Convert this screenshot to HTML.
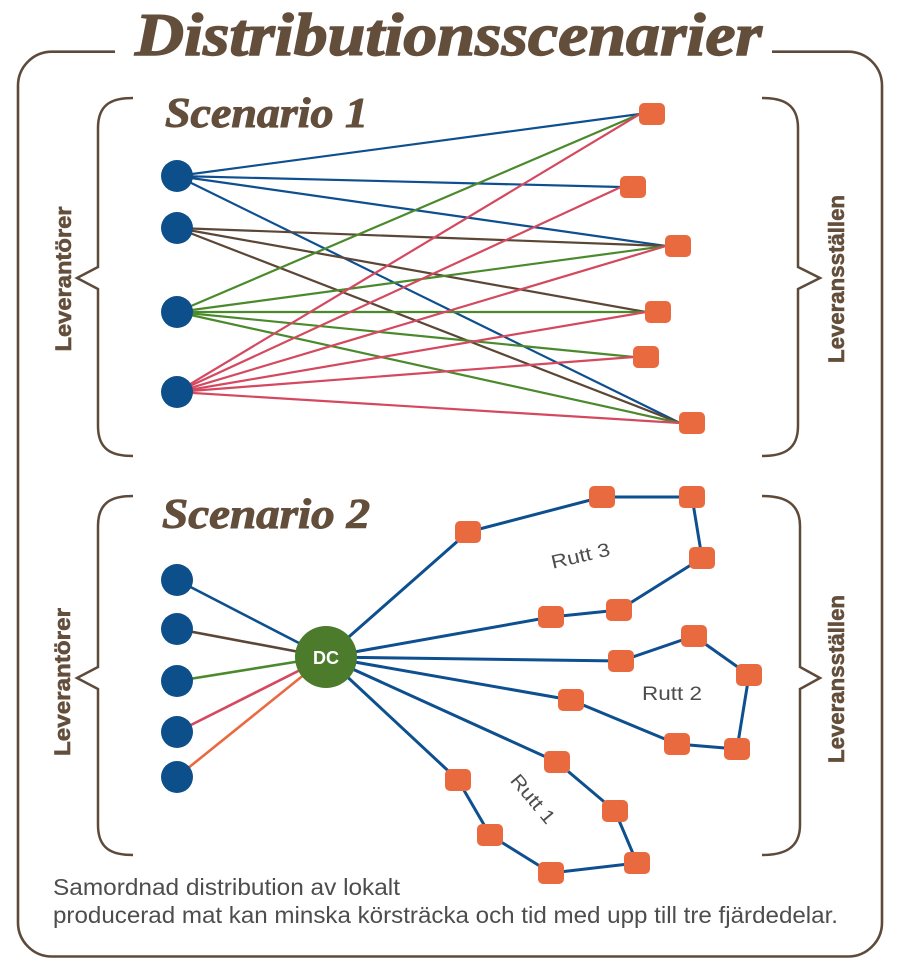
<!DOCTYPE html>
<html><head><meta charset="utf-8"><style>
html,body{margin:0;padding:0;background:#fff;}
svg{display:block;}
</style></head><body>
<svg width="908" height="968" viewBox="0 0 908 968" xmlns="http://www.w3.org/2000/svg">
<rect width="908" height="968" fill="#fff"/>
<!-- outer frame -->
<path d="M115,51.7 L52,51.7 A34,34 0 0 0 18,86 L18,922 A34,34 0 0 0 52,956.5 L848,956.5 A34,34 0 0 0 882,922 L882,86 A34,34 0 0 0 848,51.7 L772,51.7" fill="none" stroke="#5e4a3a" stroke-width="2.6"/>
<text x="135" y="55" font-family="Liberation Serif, serif" font-weight="bold" font-style="italic" font-size="60" fill="#634e3b" stroke="#634e3b" stroke-width="1.4" textLength="627" lengthAdjust="spacingAndGlyphs">Distributionsscenarier</text>

<!-- braces -->
<g fill="none" stroke="#5e4a3a" stroke-width="2.5">
<path d="M133,98 C112,98 98,104 98,128 L98,267 L77,278 L98,289 L98,426 C98,450 112,456 133,456"/>
<path d="M762,98 C783,98 798,104 798,128 L798,267 L820,278 L798,289 L798,426 C798,450 783,456 762,456"/>
<path d="M133,496 C112,496 98,502 98,526 L98,667 L77,678 L98,689 L98,825 C98,849 112,855 133,855"/>
<path d="M762,496 C783,496 800,502 800,526 L800,667 L820,678 L800,689 L800,825 C800,849 783,855 762,855"/>
</g>
<g font-family="Liberation Sans, sans-serif" font-weight="bold" font-size="22" fill="#634e3b" stroke="#634e3b" stroke-width="0.6" text-anchor="middle">
<text transform="translate(71,279) rotate(-90)" textLength="145" lengthAdjust="spacingAndGlyphs">Leverantörer</text>
<text transform="translate(844,279) rotate(-90)" textLength="168" lengthAdjust="spacingAndGlyphs">Leveransställen</text>
<text transform="translate(70,682) rotate(-90)" textLength="148" lengthAdjust="spacingAndGlyphs">Leverantörer</text>
<text transform="translate(844,679) rotate(-90)" textLength="168" lengthAdjust="spacingAndGlyphs">Leveransställen</text>
</g>

<!-- Scenario 1 -->
<text x="165" y="127" font-family="Liberation Serif, serif" font-weight="bold" font-style="italic" font-size="42" fill="#634e3b" stroke="#634e3b" stroke-width="1" textLength="203" lengthAdjust="spacingAndGlyphs">Scenario 1</text>
<g fill="none" stroke-width="2.2">
<g stroke="#0d4f8f">
<line x1="177" y1="176" x2="640" y2="114"/>
<line x1="177" y1="176" x2="621" y2="187"/>
<line x1="177" y1="176" x2="666" y2="246"/>
<line x1="177" y1="176" x2="680" y2="423"/>
</g>
<g stroke="#5c4636">
<line x1="177" y1="228" x2="666" y2="246"/>
<line x1="177" y1="228" x2="646" y2="312"/>
<line x1="177" y1="228" x2="680" y2="423"/>
</g>
<g stroke="#4a8a2c">
<line x1="177" y1="312" x2="640" y2="114"/>
<line x1="177" y1="312" x2="666" y2="246"/>
<line x1="177" y1="312" x2="646" y2="312"/>
<line x1="177" y1="312" x2="634" y2="357"/>
<line x1="177" y1="312" x2="680" y2="423"/>
</g>
<g stroke="#d4495f">
<line x1="177" y1="392" x2="640" y2="114"/>
<line x1="177" y1="392" x2="621" y2="187"/>
<line x1="177" y1="392" x2="666" y2="246"/>
<line x1="177" y1="392" x2="646" y2="312"/>
<line x1="177" y1="392" x2="634" y2="357"/>
<line x1="177" y1="392" x2="680" y2="423"/>
</g>
</g>
<g fill="#0d4f8b">
<circle cx="177" cy="176" r="16"/>
<circle cx="177" cy="228" r="16"/>
<circle cx="177" cy="312" r="16"/>
<circle cx="177" cy="392" r="16"/>
</g>
<g fill="#ea6a40">
<rect x="639" y="103" width="26" height="22" rx="5"/>
<rect x="620" y="176" width="26" height="22" rx="5"/>
<rect x="665" y="235" width="26" height="22" rx="5"/>
<rect x="645" y="301" width="26" height="22" rx="5"/>
<rect x="633" y="346" width="26" height="22" rx="5"/>
<rect x="679" y="412" width="26" height="22" rx="5"/>
</g>

<!-- Scenario 2 -->
<text x="162" y="528" font-family="Liberation Serif, serif" font-weight="bold" font-style="italic" font-size="42" fill="#634e3b" stroke="#634e3b" stroke-width="1" textLength="208" lengthAdjust="spacingAndGlyphs">Scenario 2</text>
<g fill="none" stroke-width="2.6">
<line x1="177" y1="580" x2="326" y2="657" stroke="#0d4f8f"/>
<line x1="177" y1="629" x2="326" y2="657" stroke="#5c4636"/>
<line x1="177" y1="681" x2="326" y2="657" stroke="#4a8a2c"/>
<line x1="177" y1="732" x2="326" y2="657" stroke="#d4495f"/>
<line x1="177" y1="777" x2="326" y2="657" stroke="#ea6a40"/>
</g>
<g fill="none" stroke="#0d4f8f" stroke-width="3" stroke-linejoin="round">
<polyline points="326,657 468,532 602,497 692,497 702,558 619,610 551,617 326,657"/>
<polyline points="326,657 621,661 694,636 749,675 737,749 677,744 571,700 326,657"/>
<polyline points="326,657 557,762 615,811 637,863 551,873 490,835 458,780 326,657"/>
</g>
<g fill="#0d4f8b">
<circle cx="177" cy="580" r="16"/>
<circle cx="177" cy="629" r="16"/>
<circle cx="177" cy="681" r="16"/>
<circle cx="177" cy="732" r="16"/>
<circle cx="177" cy="777" r="16"/>
</g>
<circle cx="326" cy="657" r="31" fill="#4b7b2b"/>
<text x="326" y="664" font-family="Liberation Sans, sans-serif" font-weight="bold" font-size="18" fill="#fff" text-anchor="middle">DC</text>
<g fill="#ea6a40">
<rect x="455" y="521" width="26" height="22" rx="5"/>
<rect x="589" y="486" width="26" height="22" rx="5"/>
<rect x="679" y="486" width="26" height="22" rx="5"/>
<rect x="689" y="547" width="26" height="22" rx="5"/>
<rect x="606" y="599" width="26" height="22" rx="5"/>
<rect x="538" y="606" width="26" height="22" rx="5"/>
<rect x="608" y="650" width="26" height="22" rx="5"/>
<rect x="681" y="625" width="26" height="22" rx="5"/>
<rect x="736" y="664" width="26" height="22" rx="5"/>
<rect x="724" y="738" width="26" height="22" rx="5"/>
<rect x="664" y="733" width="26" height="22" rx="5"/>
<rect x="558" y="689" width="26" height="22" rx="5"/>
<rect x="544" y="751" width="26" height="22" rx="5"/>
<rect x="602" y="800" width="26" height="22" rx="5"/>
<rect x="624" y="852" width="26" height="22" rx="5"/>
<rect x="538" y="862" width="26" height="22" rx="5"/>
<rect x="477" y="824" width="26" height="22" rx="5"/>
<rect x="445" y="769" width="26" height="22" rx="5"/>
</g>
<g font-family="Liberation Sans, sans-serif" font-size="19" fill="#4d4d4d" text-anchor="middle">
<text transform="translate(582,562) rotate(-13)" textLength="60" lengthAdjust="spacingAndGlyphs">Rutt 3</text>
<text x="672" y="700" textLength="60" lengthAdjust="spacingAndGlyphs">Rutt 2</text>
<text transform="translate(528,803) rotate(50)" textLength="58" lengthAdjust="spacingAndGlyphs">Rutt 1</text>
</g>

<!-- caption -->
<g font-family="Liberation Sans, sans-serif" font-size="23" fill="#4d4d4d">
<text x="53" y="895" textLength="347" lengthAdjust="spacingAndGlyphs">Samordnad distribution av lokalt</text>
<text x="53" y="923" textLength="785" lengthAdjust="spacingAndGlyphs">producerad mat kan minska körsträcka och tid med upp till tre fjärdedelar.</text>
</g>
</svg>
</body></html>
